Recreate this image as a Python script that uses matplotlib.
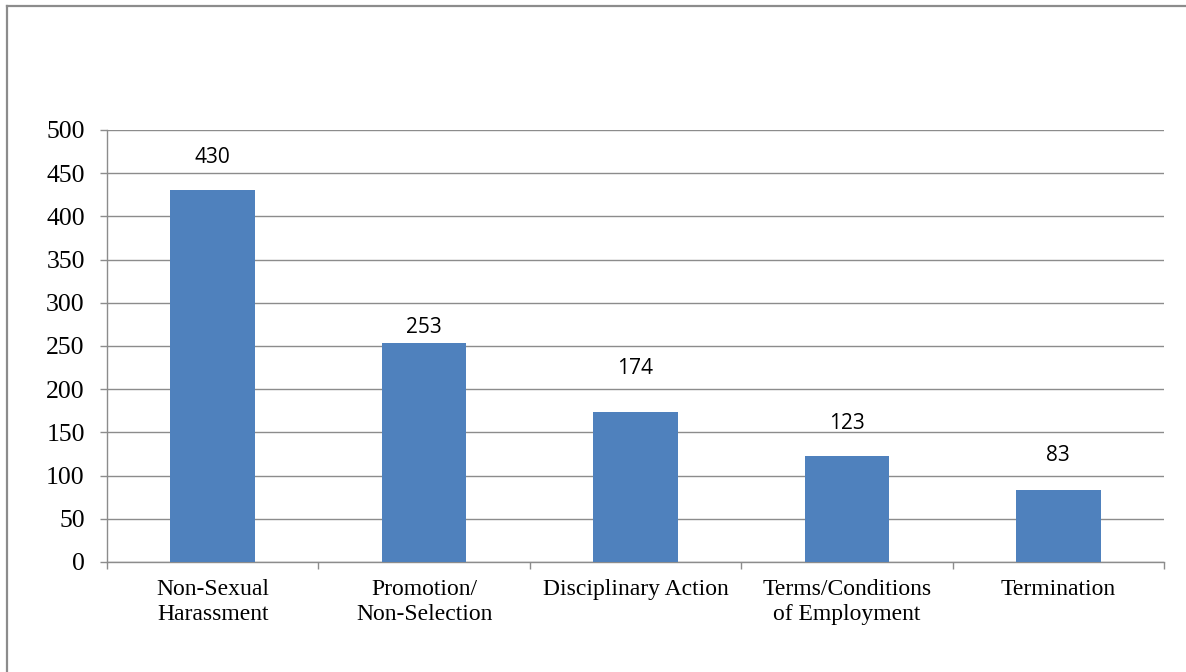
import matplotlib
matplotlib.use("Agg")
import matplotlib.pyplot as plt
from matplotlib.lines import Line2D

categories = ["Non-Sexual\nHarassment", "Promotion/\nNon-Selection", "Disciplinary Action",
              "Terms/Conditions\nof Employment", "Termination"]
values = [430, 253, 174, 123, 83]
yticks = [0, 50, 100, 150, 200, 250, 300, 350, 400, 450, 500]

# label placement (pixels above bar top), style only
label_offsets_px = [33, 16, 43, 32, 35]

W, H = 1186, 672
fig = plt.figure(figsize=(W / 100, H / 100), dpi=100)
fig.patch.set_facecolor("white")
border = "#8c8c8c"
fig.add_artist(Line2D([7 / W, 1.0], [1 - 6 / H, 1 - 6 / H], transform=fig.transFigure,
                      color=border, linewidth=1.6))
fig.add_artist(Line2D([7 / W, 7 / W], [0, 1 - 6 / H], transform=fig.transFigure,
                      color=border, linewidth=1.6))

ax = fig.add_axes([107 / W, 1 - 562 / H, (1164 - 107) / W, (562 - 130) / H])
x = list(range(len(categories)))
ax.bar(x, values, width=0.4, color="#4F81BD", zorder=3)
ax.set_xlim(-0.5, len(categories) - 0.5)
ax.set_ylim(0, 500)
ax.set_yticks(yticks)
ax.set_yticklabels([str(t) for t in yticks], fontfamily="Liberation Serif", fontsize=18.5)
ax.yaxis.grid(True, color=border, linewidth=1.0, zorder=0)
ax.set_xticks(x)
ax.set_xticklabels(categories, fontfamily="Liberation Serif", fontsize=17, linespacing=1.25)
ax.tick_params(axis="x", length=0, pad=12.5)
ax.set_xticks([i - 0.5 for i in range(len(categories) + 1)], minor=True)
ax.tick_params(axis="x", which="minor", length=5, color=border, width=1)
ax.tick_params(axis="y", length=5, color=border, width=1, pad=11)
for s in ["top", "right"]:
    ax.spines[s].set_visible(False)
for s in ["left", "bottom"]:
    ax.spines[s].set_color(border)
    ax.spines[s].set_linewidth(1.0)

for xi, v, off in zip(x, values, label_offsets_px):
    ax.annotate(str(v), (xi, v), xytext=(0, off * 0.72), textcoords="offset points",
                ha="center", va="center", fontsize=15, fontfamily="Open Sans")

fig.savefig("out.png", dpi=100)
